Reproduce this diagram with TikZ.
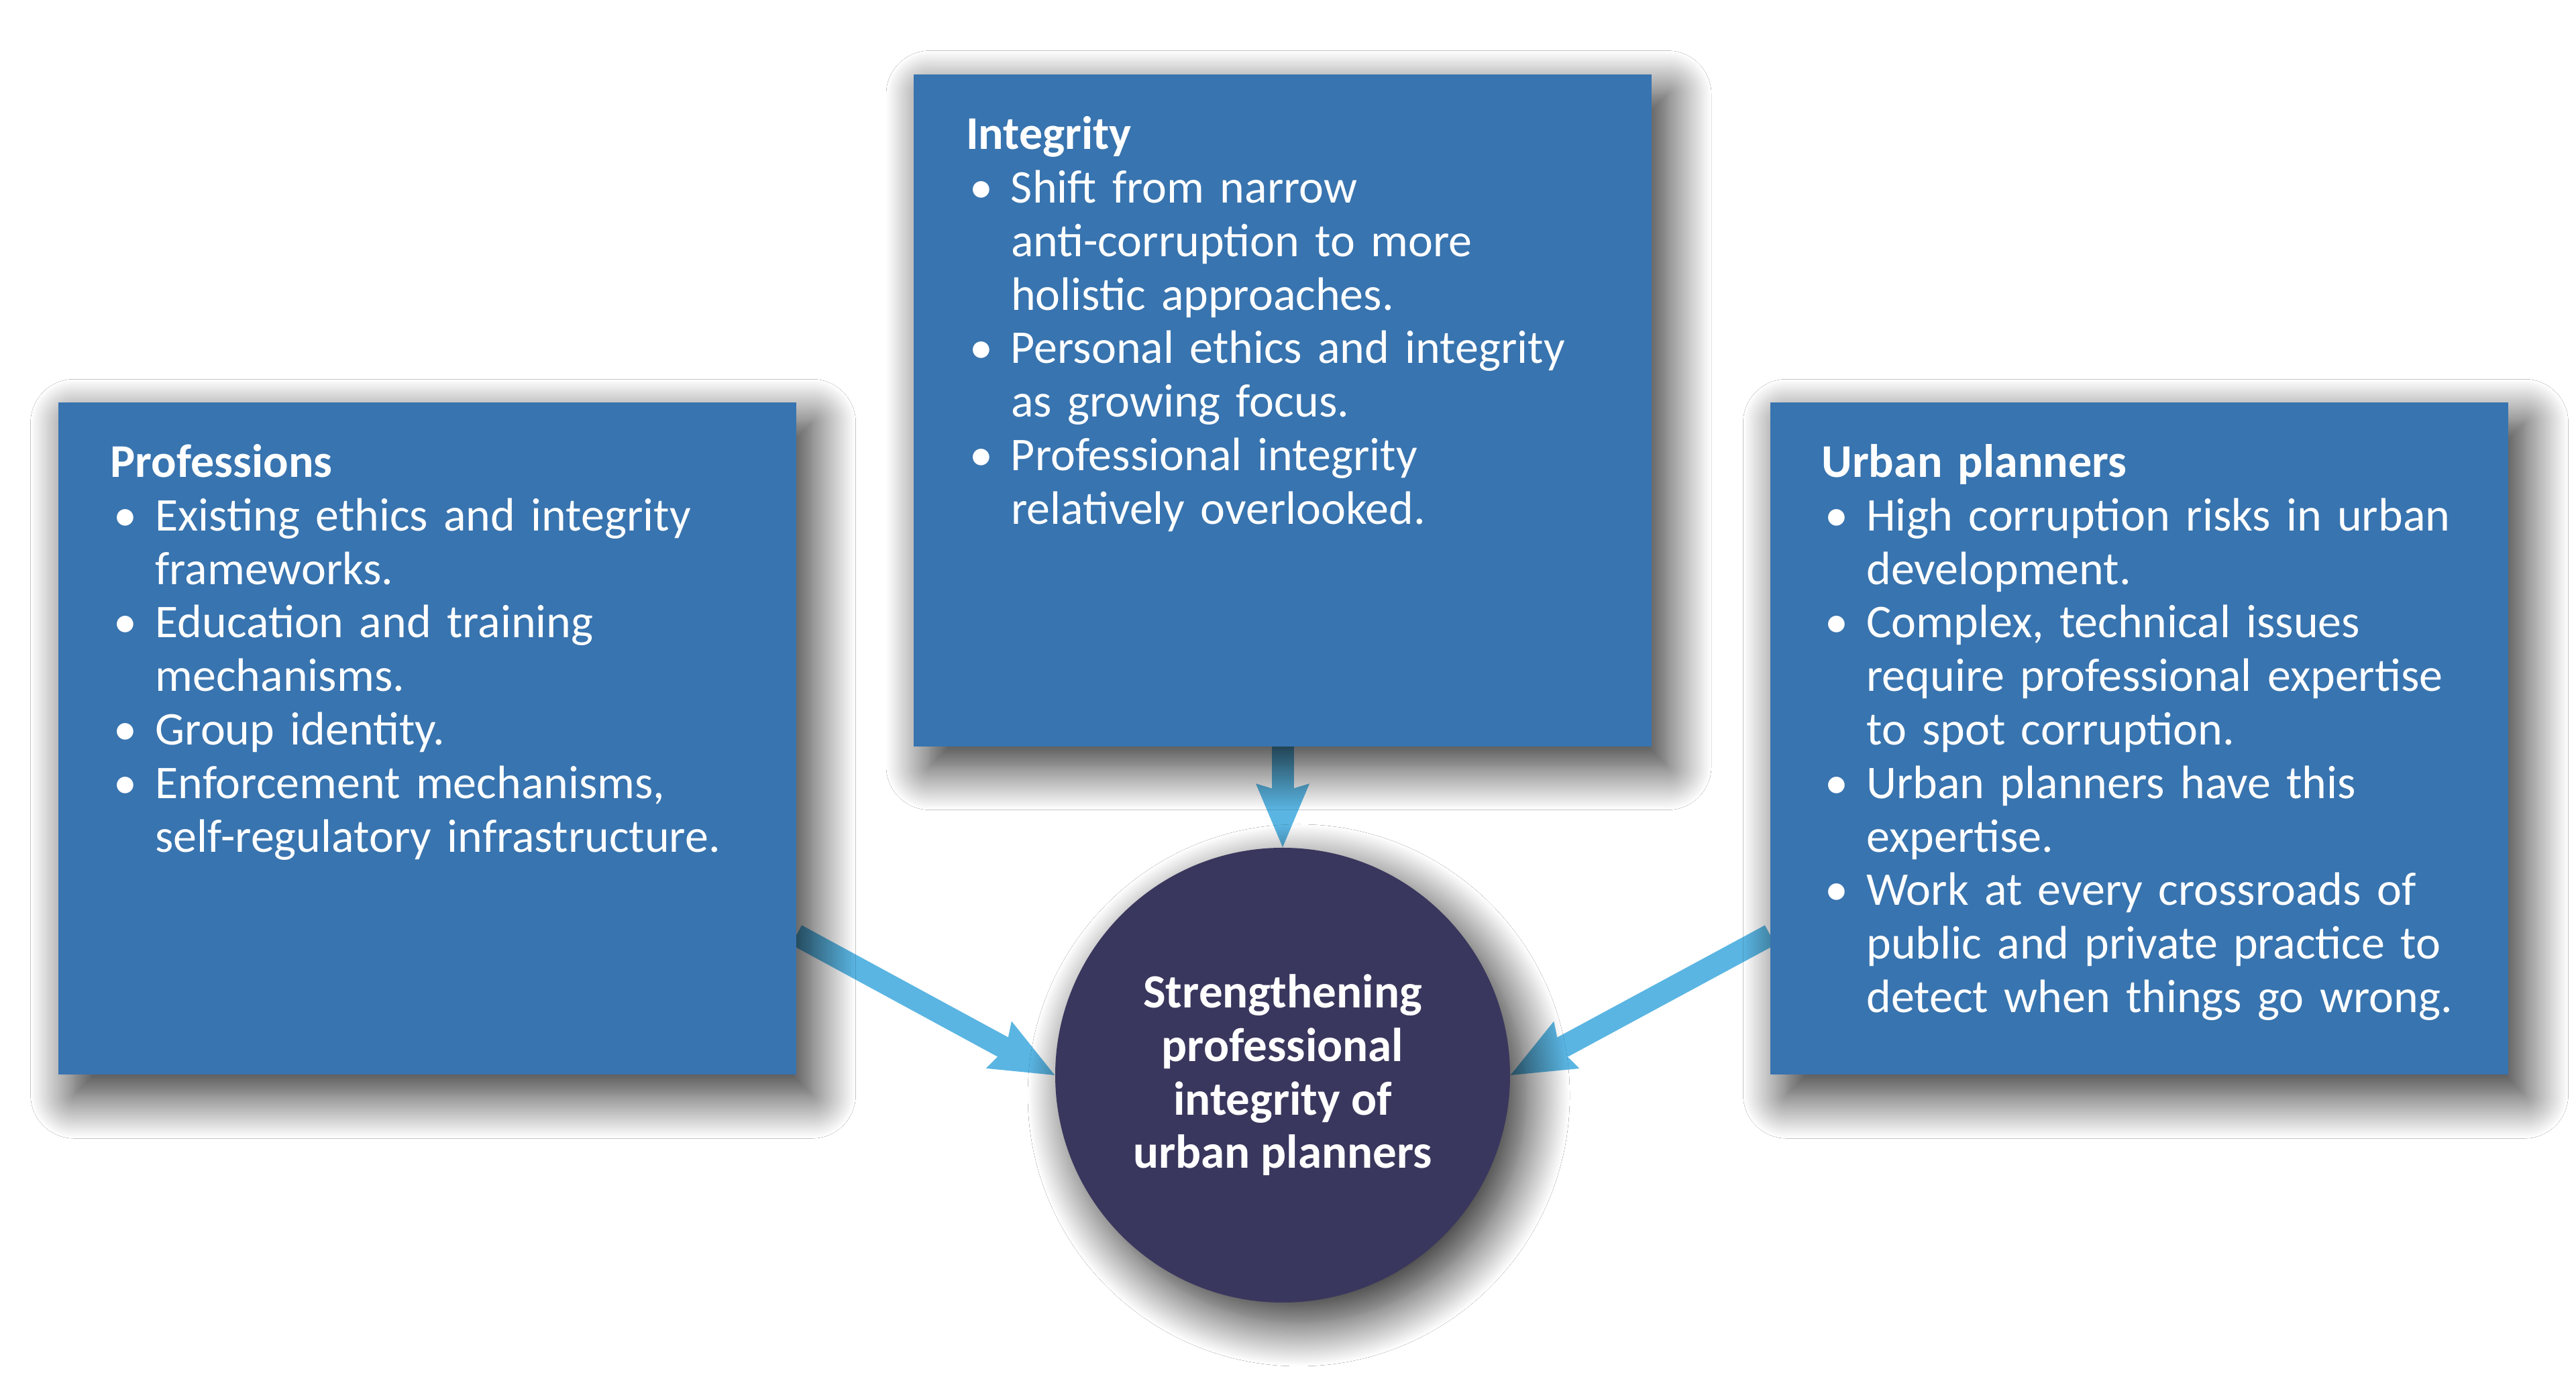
\documentclass[tikz,border=0pt]{standalone}
\usepackage{fontspec}
\setmainfont{Carlito}
\usetikzlibrary{arrows.meta, positioning, shadows.blur}
\definecolor{panelblue}{RGB}{56,116,175}
\definecolor{hubnavy}{RGB}{58,55,94}
\definecolor{arrowsky}{RGB}{90,181,226}
\pgfdeclarelayer{background}
\pgfsetlayers{background,main}
\newcommand{\bitem}{\makebox[0.67cm][l]{\hspace{0.05cm}\textbullet}}
\newcommand{\bcont}{\hspace*{0.67cm}}

\begin{document}
\begin{tikzpicture}[
    softshadow/.style={blur shadow={shadow xshift=0.24cm, shadow yshift=-0.3cm, shadow blur radius=0.65cm, shadow opacity=85, shadow blur steps=30}},
    panel/.style={rectangle, fill=panelblue, minimum width=11cm, minimum height=10.02cm, inner sep=0pt, softshadow},
    paneltext/.style={text=white, text width=10.3cm, align=left, inner sep=0pt, font=\fontsize{19.9}{22.7}\selectfont},
    hub/.style={circle, fill=hubnavy, minimum size=6.78cm, inner sep=0pt, text=white, align=center, font=\bfseries\fontsize{20.2}{22.7}\selectfont, softshadow},
    arrow/.style={arrowsky, line width=0.33cm, -{Stealth[length=0.95cm, width=0.8cm, inset=0.12cm, line width=0pt]}}
]
    \node[hub] (hub) at (19.12,4.53) {Strengthening\\professional\\integrity of\\urban planners};
    \node[panel, above=1.5cm of hub] (integrity) {};
    \node[panel, left=3.85cm of hub.west, anchor=south east] (professions) {};
    \node[panel, right=3.87cm of hub.east, anchor=south west] (planners) {};

    \node[paneltext, below right=1.12cm and 0.78cm of professions.north west, anchor=base west] (professions-list) {\textbf{Professions}\\
        \bitem Existing ethics and integrity\\
        \bcont frameworks.\\
        \bitem Education and training\\
        \bcont mechanisms.\\
        \bitem Group identity.\\
        \bitem Enforcement mechanisms,\\
        \bcont self-regulatory infrastructure.};
    \node[paneltext, below right=1.13cm and 0.78cm of integrity.north west, anchor=base west] (integrity-list) {\textbf{Integrity}\\
        \bitem Shift from narrow\\
        \bcont anti-corruption to more\\
        \bcont holistic approaches.\\
        \bitem Personal ethics and integrity\\
        \bcont as growing focus.\\
        \bitem Professional integrity\\
        \bcont relatively overlooked.};
    \node[paneltext, below right=1.12cm and 0.76cm of planners.north west, anchor=base west] (planners-list) {\textbf{Urban planners}\\
        \bitem High corruption risks in urban\\
        \bcont development.\\
        \bitem Complex, technical issues\\
        \bcont require professional expertise\\
        \bcont to spot corruption.\\
        \bitem Urban planners have this\\
        \bcont expertise.\\
        \bitem Work at every crossroads of\\
        \bcont public and private practice to\\
        \bcont detect when things go wrong.};

    \begin{pgfonlayer}{background}
        \fill[white, use as bounding box] (0,0) rectangle (38.4,20.56);
        \draw[arrow] (integrity.south) -- (hub.north);
        \draw[arrow] ([yshift=2.09cm]professions.south east) -- (hub.west);
        \draw[arrow] ([yshift=2.09cm]planners.south west) -- (hub.east);
    \end{pgfonlayer}
\end{tikzpicture}
\end{document}
